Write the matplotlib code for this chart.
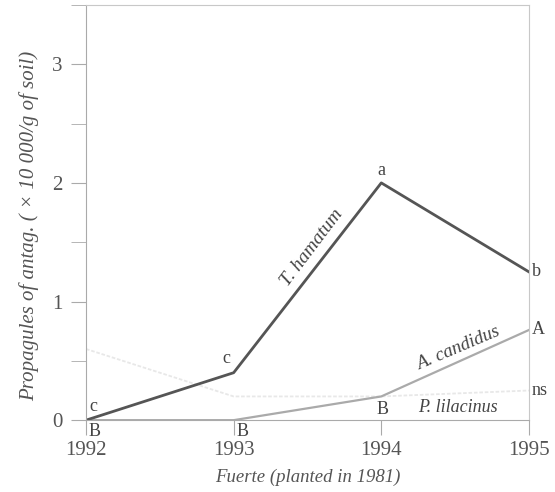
import matplotlib
matplotlib.use('Agg')
import matplotlib.pyplot as plt
from matplotlib.ticker import MultipleLocator

years = [1992, 1993, 1994, 1995]
hamatum = [0.0, 0.4, 2.0, 1.25]
candidus = [0.0, 0.0, 0.2, 0.76]
lilacinus = [0.6, 0.2, 0.2, 0.25]

plt.rcParams['font.family'] = ['Liberation Serif', 'DejaVu Serif']

fig = plt.figure(figsize=(5.55, 4.92), dpi=100)
ax = fig.add_axes([0.155, 0.146, 0.798, 0.844])

ax.plot(years, lilacinus, color='#e8e8e8', lw=1.3, ls=(0, (2, 1)))
ax.plot(years, candidus, color='#aaaaaa', lw=1.6)
ax.plot(years, hamatum, color='#555555', lw=2.0)

ax.set_xlim(1992, 1995)
ax.set_ylim(0, 3.5)
ax.set_xticks(years)
ax.yaxis.set_major_locator(MultipleLocator(1))
ax.yaxis.set_minor_locator(MultipleLocator(0.5))
ax.tick_params(axis='both', which='both', direction='out', length=11,
               color='#aaaaaa', labelcolor='#555555', labelsize=15)
ax.tick_params(axis='x', pad=4)
ax.tick_params(axis='y', pad=6)
for s in ax.spines.values():
    s.set_color('#c8c8c8')
ax.spines['left'].set_color('#aaaaaa')
ax.spines['bottom'].set_color('#aaaaaa')

ax.set_ylabel('Propagules of antag. ( \u00d7 10 000/g of soil)', style='italic',
              color='#555555', fontsize=15)
ax.yaxis.set_label_coords(-0.106, 0.467)
ax.set_xlabel('Fuerte (planted in 1981)', style='italic', color='#555555',
              fontsize=13.5, labelpad=6)

# significance letters
tc = '#444444'
fs = 13
ax.text(1992.02, 0.04, 'c', color=tc, fontsize=fs, ha='left', va='bottom')
ax.text(1992.02, -0.02, 'B', color=tc, fontsize=fs, ha='left', va='top')
ax.text(1992.98, 0.45, 'c', color=tc, fontsize=fs, ha='right', va='bottom')
ax.text(1993.02, -0.02, 'B', color=tc, fontsize=fs, ha='left', va='top')
ax.text(1994.0, 2.03, 'a', color=tc, fontsize=fs, ha='center', va='bottom')
ax.text(1994.01, 0.16, 'B', color=tc, fontsize=fs, ha='center', va='top')
ax.text(1995.02, 1.25, 'b', color=tc, fontsize=fs, ha='left', va='center')
ax.text(1995.02, 0.76, 'A', color=tc, fontsize=fs, ha='left', va='center')
ax.text(1995.02, 0.25, 'ns', color=tc, fontsize=fs, ha='left', va='center')

# series labels
ax.text(1993.53, 1.45, 'T. hamatum', style='italic', color=tc, fontsize=14,
        rotation=53, ha='center', va='center')
ax.text(1994.52, 0.6, 'A. candidus', style='italic', color=tc, fontsize=13.5,
        rotation=23, ha='center', va='center')
ax.text(1994.52, 0.11, 'P. lilacinus', style='italic', color=tc, fontsize=13,
        ha='center', va='center')

fig.savefig('out.png', dpi=100)
